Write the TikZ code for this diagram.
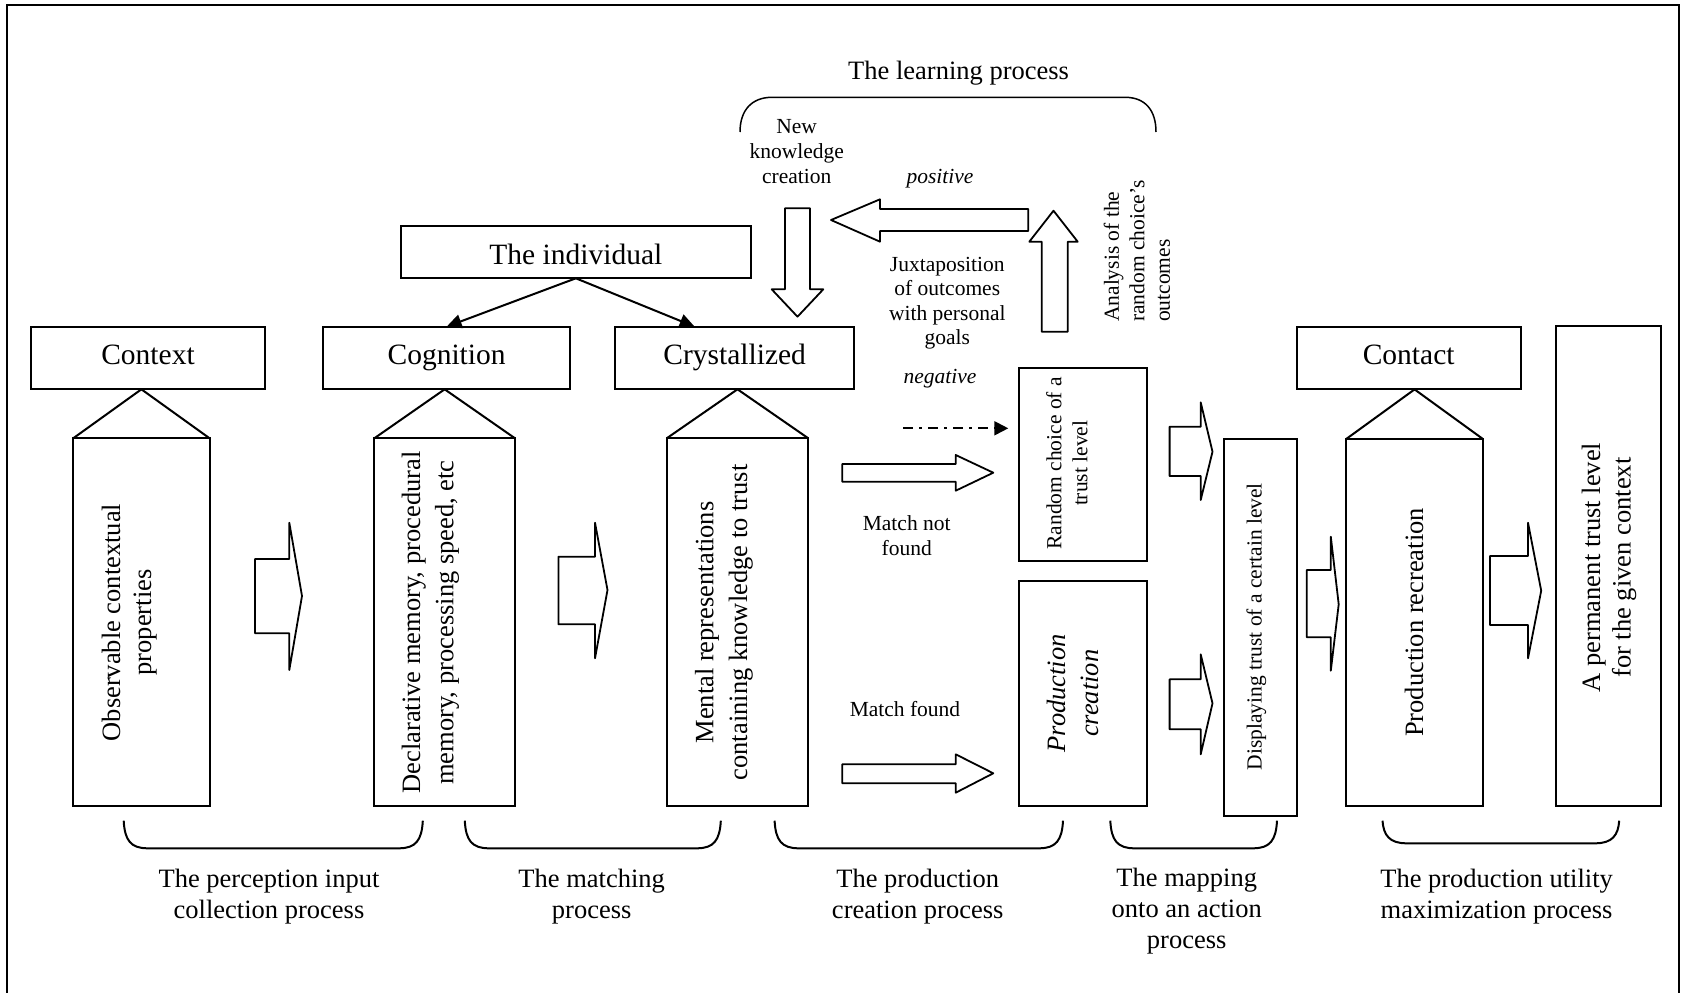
\documentclass[tikz,border=0pt]{standalone}
\usepackage{fontspec}
\setmainfont{Liberation Serif}
\usetikzlibrary{arrows.meta,calc}
\newcommand\fsS{\fontsize{21.5}{25}\selectfont}
\newcommand\fsM{\fontsize{26.5}{31}\selectfont}
\newcommand\fsL{\fontsize{29.5}{34}\selectfont}
% right-pointing block arrow: x0, shaft y1, shaft y2, head base x, head y1, head y2, tip x, tip y
\newcommand\blockR[8]{\draw[barrow] (#1,#2) -- (#4,#2) -- (#4,#5) -- (#7,#8) -- (#4,#6) -- (#4,#3) -- (#1,#3) -- cycle;}
% bottom bracket: left x, right x, bottom y
\newcommand\bbr[3]{\draw[lw] (#1,820.7) .. controls (#1+1,#3-8) and (#1+7,#3) .. (#1+24,#3) -- (#2-24,#3) .. controls (#2-7,#3) and (#2-1,#3-8) .. (#2,820.7);}
\begin{document}
\begin{tikzpicture}[x=1pt,y=-1pt,
  lw/.style={line width=2pt},
  barrow/.style={line width=1.8pt, line join=round},
  hbox/.style 2 args={draw, line width=2pt, inner sep=0pt, outer sep=0pt, minimum width=#1, minimum height=#2, font=\fsL, text height=20.6pt, text depth=7.4pt},
  tbox/.style 2 args={draw, line width=2pt, inner sep=0pt, outer sep=0pt, minimum width=#1, minimum height=#2},
  vtext/.style={rotate=90, align=center, inner sep=0pt},
  lbl/.style={align=center, inner sep=0pt},
  tri/.style={line width=2pt, line join=miter}]
\useasboundingbox (0,0) rectangle (1687,993);
% frame
\draw[line width=2pt] (7.3,993) -- (7.3,5) -- (1679.3,5) -- (1679.3,993);

% header boxes
\node[hbox={234}{62.6}] (ctx) at (148,358) {Context};
\node[hbox={246.8}{62.6}] (cog) at (446.6,358) {Cognition};
\node[hbox={239.3}{62.6}] (cry) at (734.65,358) {Crystallized};
\node[hbox={223.9}{62.8}] (con) at (1408.65,358) {Contact};
\node[hbox={350.3}{52.6}, text height=25.4pt, text depth=0pt] (ind) at (575.85,252) {The individual};

% tall boxes
\node[tbox={136.4}{367.7}] (obs) at (141.4,622.15) {};
\node[tbox={140.7}{367.7}] (dec) at (444.65,622.15) {};
\node[tbox={141.6}{367.7}] (men) at (737.5,622.15) {};
\node[tbox={127.4}{192.7}] (rnd) at (1083,464.65) {};
\node[tbox={128}{225.3}] (prc) at (1082.8,693.35) {};
\node[tbox={73.2}{377}] (dsp) at (1260.1,627.5) {};
\node[tbox={136.7}{367}] (prr) at (1414.55,622.5) {};
\node[tbox={105.1}{480}] (per) at (1608.25,566) {};

% triangles
\draw[tri] (obs.north west) -- (obs.north |- ctx.south) -- (obs.north east);
\draw[tri] (dec.north west) -- (dec.north |- cog.south) -- (dec.north east);
\draw[tri] (men.north west) -- (men.north |- cry.south) -- (men.north east);
\draw[tri] (prr.north west) -- (prr.north |- con.south) -- (prr.north east);

% texts in tall boxes
\node[vtext, font=\fontsize{26.5}{31}\selectfont] (obst) at (129.2,622.5) {Observable contextual\\properties};
\node[vtext, font=\fontsize{26.5}{33.3}\selectfont] (dect) at (430.5,622.5) {Declarative memory, procedural\\memory, processing speed, etc};
\node[vtext, font=\fontsize{26.5}{33.7}\selectfont] (ment) at (724,622.5) {Mental representations\\containing knowledge to trust};
\node[vtext, font=\fontsize{21.5}{26}\selectfont] (rndt) at (1067,463.3) {Random choice of a\\trust level};
\node[vtext, font=\fontsize{26.5}{33}\selectfont\itshape] (prct) at (1073,693.3) {Production\\creation};
\node[vtext, font=\fsS] (dspt) at (1256.4,626.7) {Displaying trust of a certain level};
\node[vtext, font=\fsM] (prrt) at (1414.1,622.5) {Production recreation};
\node[vtext, font=\fontsize{26.5}{30.7}\selectfont] (pert) at (1609,567.5) {A permanent trust level\\for the given context};

% individual arrows
\draw[lw, -{Triangle[length=15pt,width=14pt]}] (ind.south) -- (cog.north);
\draw[lw, -{Triangle[length=15pt,width=14pt]}] (ind.south) -- ([xshift=-40pt]cry.north);

% block arrows between columns
\blockR{255}{559}{633.3}{289.3}{522.7}{670}{302}{596}
\blockR{558.4}{556.7}{624.3}{595}{522.7}{658.3}{607.5}{590}
\blockR{1169.6}{426.7}{476}{1200.7}{402.3}{500}{1212.5}{451.7}
\blockR{1169.6}{679.3}{729.3}{1200.7}{654.3}{754.3}{1212.5}{703.3}
\blockR{1306.7}{570}{637.3}{1330.8}{536.7}{670.7}{1338.7}{604.3}
\blockR{1489.9}{556}{625}{1528}{522.7}{658.3}{1541.2}{590.7}
% match arrows
\blockR{842.3}{464}{481.7}{955.7}{455}{490.7}{993.3}{472.7}
\blockR{842.3}{764.3}{783.3}{955.7}{754.3}{792.7}{993.3}{773.3}

% learning loop arrows
\draw[barrow] (831,220) -- (880,199.3) -- (880,209) -- (1028.3,209) -- (1028.3,231) -- (880,231) -- (880,241.7) -- cycle;
\draw[barrow] (785,208.3) -- (810,208.3) -- (810,289.3) -- (823.3,289.3) -- (797.5,316.7) -- (771.7,289.3) -- (785,289.3) -- cycle;
\draw[barrow] (1041.7,331.7) -- (1067.7,331.7) -- (1067.7,241.7) -- (1077.7,241.7) -- (1053.5,210.7) -- (1029.3,241.7) -- (1041.7,241.7) -- cycle;

% negative dash-dot arrow
\coordinate (negs) at (903.3,428.3);
\draw[line width=2pt, dash pattern=on 10pt off 6pt on 3pt off 6pt, -{Triangle[length=14pt,width=14pt]}, shorten >=11pt] (negs) -- (negs -| rnd.west);

% learning bracket
\draw[line width=1.5pt] (740,132) .. controls (740,110) and (752,97.3) .. (772,97.3) -- (1125,97.3) .. controls (1145,97.3) and (1156,110) .. (1156,132);

% top texts
\node[lbl, font=\fsM] (ttl) at (958.6,73) {The learning process};
\node[lbl, font=\fsS] (nkc) at (796.7,152) {New\\knowledge\\creation};
\node[lbl, font=\fsS\itshape] (pos) at (940,178.7) {positive};
\node[lbl, font=\fontsize{21.5}{24.4}\selectfont] (jux) at (947.3,303) {Juxtaposition\\of outcomes\\with personal\\goals};
\node[rotate=90, anchor=west, align=left, inner sep=0pt, font=\fontsize{21.5}{25.5}\selectfont] (ana) at (1137,322) {Analysis of the\\random choice's\\outcomes};
\node[lbl, font=\fsS\itshape] (neg) at (940,379) {negative};
\node[lbl, font=\fsS] (mnf) at (906.7,535.8) {Match not\\found};
\node[lbl, font=\fsS] (mf) at (905,709.3) {Match found};

% bottom brackets
\bbr{123.7}{422.8}{848.3}
\bbr{464.8}{720.8}{848.3}
\bbr{774.6}{1063}{848.3}
\bbr{1110.3}{1277}{848.3}
\bbr{1382.5}{1619.2}{843.3}

% bottom labels
\node[lbl, font=\fsM] (b1) at (269,896.5) {The perception input\\collection process};
\node[lbl, font=\fsM] (b2) at (591.7,896.5) {The matching\\process};
\node[lbl, font=\fsM] (b3) at (917.7,896.5) {The production\\creation process};
\node[lbl, font=\fsM] (b4) at (1186.7,911.5) {The mapping\\onto an action\\process};
\node[lbl, font=\fsM] (b5) at (1496.6,896.5) {The production utility\\maximization process};
\end{tikzpicture}
\end{document}
